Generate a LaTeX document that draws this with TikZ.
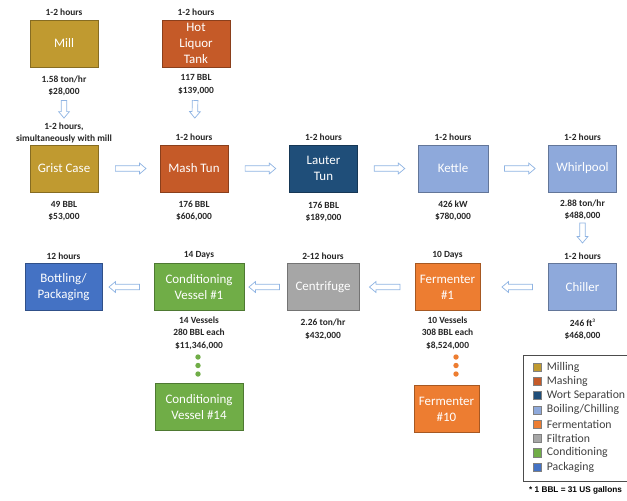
\documentclass[tikz,border=0pt]{standalone}
\usepackage{fontspec}
\setmainfont{Carlito}
\newfontfamily\notefont{Liberation Sans}
\usetikzlibrary{positioning,shapes.arrows}

\definecolor{milling}{HTML}{C09A30}
\definecolor{mashing}{HTML}{C55A28}
\definecolor{wort}{HTML}{1F4E79}
\definecolor{boiling}{HTML}{8EA9DB}
\definecolor{ferment}{HTML}{ED7D31}
\definecolor{filtration}{HTML}{A6A6A6}
\definecolor{conditioning}{HTML}{70AD47}
\definecolor{packaging}{HTML}{4472C4}
\definecolor{arrowblue}{HTML}{8FB4E3}
\definecolor{infotext}{HTML}{262626}

\tikzset{
  stage/.style={draw=#1!70!black, fill=#1, text=white, line width=0.6pt,
    minimum width=58pt, minimum height=40pt, inner sep=1pt, align=center,
    font=\fontsize{11}{13.5}\selectfont},
  info/.style={text=infotext, align=center, inner sep=1pt,
    font=\bfseries\fontsize{8}{10.5}\selectfont},
  flow/.style={sloped, allow upside down, single arrow, draw=arrowblue,
    fill=white, line width=0.6pt, minimum height=26pt, inner xsep=0pt,
    inner ysep=2.1pt, single arrow head extend=2.2pt,
    single arrow tip angle=80},
  legendkey/.style={draw=gray, fill=#1, minimum size=7pt, inner sep=0pt},
  legendtext/.style={anchor=west, inner sep=0pt, text=black!75,
    font=\fontsize{10}{11}\selectfont}
}

\begin{document}
\begin{tikzpicture}[x=0.85pt,y=-0.85pt]
\useasboundingbox (0,0) rectangle (627,500);
\clip (0,0) rectangle (627,500);

% brewhouse
\node[stage=milling] (mill) at (64,43.5) {Mill};
\node[stage=mashing] (hlt) at (196,43.5) {Hot\\Liquor\\Tank};
\node[stage=milling] (grist) at (64,168.5) {Grist Case};
\node[stage=mashing] (mash) at (194,168.5) {Mash Tun};
\node[stage=wort] (lauter) at (323.5,168.5) {Lauter\\Tun};
\node[stage=boiling, minimum width=59.5pt] (kettle) at (453,168.5) {Kettle};
\node[stage=boiling] (whirlpool) at (582.5,168.5) {Whirlpool};

% cellar
\node[stage=boiling] (chiller) at (582.5,287) {Chiller};
\node[stage=ferment, minimum width=55.3pt] (ferm) at (447.5,287) {Fermenter\\\#1};
\node[stage=filtration, minimum width=61.2pt] (centrifuge) at (323,287) {Centrifuge};
\node[stage=conditioning, minimum width=76.5pt] (cond) at (199,287) {Conditioning\\Vessel \#1};
\node[stage=packaging, minimum width=65.5pt] (bottling) at (63.5,287) {Bottling/\\Packaging};
\node[stage=conditioning, minimum width=74.8pt] (condlast) at (199,407) {Conditioning\\Vessel \#14};
\node[stage=ferment, minimum width=55.3pt] (fermlast) at (446.5,409) {Fermenter\\\#10};

% times
\node[info, above=2pt of mill] (tmill) {1-2 hours};
\node[info, above=2pt of hlt] (thlt) {1-2 hours};
\node[info, above=0pt of grist] (tgrist) {1-2 hours,\\simultaneously with mill};
\node[info, above=2pt of mash] (tmash) {1-2 hours};
\node[info, above=2pt of lauter] (tlauter) {1-2 hours};
\node[info, above=2pt of kettle] (tkettle) {1-2 hours};
\node[info, above=2pt of whirlpool] (twhirlpool) {1-2 hours};
\node[info, above=2pt of chiller] (tchiller) {1-2 hours};
\node[info, above=2pt of ferm] (tferm) {10 Days};
\node[info, above=2pt of centrifuge] (tcentrifuge) {2-12 hours};
\node[info, above=2pt of cond] (tcond) {14 Days};
\node[info, above=2pt of bottling] (tbottling) {12 hours};

% sizes and costs
\node[info, below=6pt of mill] (cmill) {1.58 ton/hr\\\$28,000};
\node[info, below=5pt of hlt] (chlt) {117 BBL\\\$139,000};
\node[info, below=6pt of grist] (cgrist) {49 BBL\\\$53,000};
\node[info, below=6pt of mash] (cmash) {176 BBL\\\$606,000};
\node[info, below=7pt of lauter] (clauter) {176 BBL\\\$189,000};
\node[info, below=6pt of kettle] (ckettle) {426 kW\\\$780,000};
\node[info, below=5pt of whirlpool] (cwhirlpool) {2.88 ton/hr\\\$488,000};
\node[info, below=6pt of chiller] (cchiller) {246 ft\raisebox{3pt}{\fontsize{4.5}{5}\selectfont 3}\\\$468,000};
\node[info, below=4pt of ferm] (cferm) {10 Vessels\\308 BBL each\\\$8,524,000};
\node[info, below=6pt of centrifuge] (ccentrifuge) {2.26 ton/hr\\\$432,000};
\node[info, below=4pt of cond] (ccond) {14 Vessels\\280 BBL each\\\$11,346,000};

% flow
\path (mill) -- (grist) node[flow, pos=0.52, minimum height=15pt] {};
\path (hlt) -- (mash) node[flow, pos=0.52, minimum height=15pt] {};
\path (grist) -- (mash) node[flow, midway] {};
\path (mash) -- (lauter) node[flow, midway] {};
\path (lauter) -- (kettle) node[flow, midway] {};
\path (kettle) -- (whirlpool) node[flow, midway] {};
\path (whirlpool) -- (chiller) node[flow, pos=0.55, minimum height=17pt] {};
\path (chiller) -- (ferm) node[flow, pos=0.43] {};
\path (ferm) -- (centrifuge) node[flow, pos=0.51] {};
\path (centrifuge) -- (cond) node[flow, pos=0.49] {};
\path (cond) -- (bottling) node[flow, pos=0.54] {};

% more vessels
\foreach \y in {357,365.5,374} {
  \fill[conditioning] (198,\y) circle (2.3pt);
  \fill[ferment] (456,\y) circle (2.3pt);
}

% legend
\draw[gray!60!black, line width=0.8pt] (523,355) rectangle (660,481);
\foreach \c/\t [count=\i from 0] in {milling/Milling, mashing/Mashing,
    wort/Wort Separation, boiling/{Boiling/Chilling}, ferment/Fermentation,
    filtration/Filtration, conditioning/Conditioning, packaging/Packaging} {
  \node[legendkey=\c] (key\i) at (537,367+14.3*\i) {};
  \node[legendtext, right=4.5pt of key\i] (name\i) {\t};
}
\node[anchor=west, inner sep=0pt, font=\notefont\bfseries\fontsize{7}{9}\selectfont]
  (note) at (529,490) {* 1 BBL = 31 US gallons};

\end{tikzpicture}
\end{document}
